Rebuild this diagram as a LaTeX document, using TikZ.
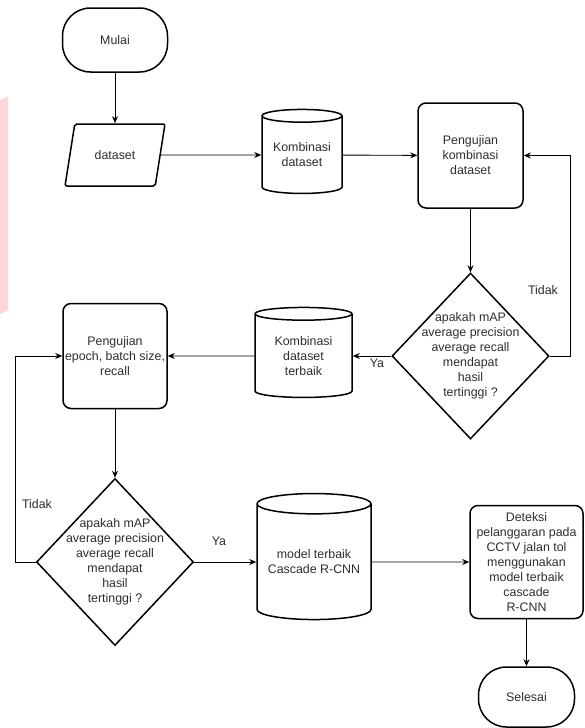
\documentclass[tikz,border=0pt]{standalone}
\usepackage{fontspec}
\setmainfont{Liberation Sans}
\usetikzlibrary{shapes.geometric,arrows.meta}
\definecolor{watermarkpink}{RGB}{255,214,218}
\definecolor{labelgray}{RGB}{45,45,45}

\begin{document}
\begin{tikzpicture}[x=1pt,y=-1pt,
        font=\fontsize{12.4}{15}\selectfont,
        every node/.style={text=labelgray},
        terminal/.style={draw, line width=1.5pt, rectangle, rounded corners=28pt, minimum width=105pt, minimum height=64pt},
        process/.style={draw, line width=1.5pt, rectangle, rounded corners=8pt, align=center, inner sep=0pt},
        datain/.style={draw, line width=1.5pt, trapezium, trapezium left angle=70, trapezium right angle=110, trapezium stretches=true, rounded corners=2pt, minimum width=100pt, minimum height=62pt},
        store/.style={draw, line width=1.5pt, cylinder, shape border rotate=90, aspect=0.22, align=center, inner sep=0pt},
        decision/.style={draw, line width=1.5pt, diamond, inner sep=0pt},
        qtext/.style={align=center},
        arr/.style={-{Stealth[length=7pt,width=6pt]}, line width=0.9pt}]
        \useasboundingbox (0,0) rectangle (584,728);

        % Watermark edge
        \fill[watermarkpink] (0,100) -- (8,96) -- (8,310) -- (0,314) -- cycle;

        % First round: dataset combinations
        \node[terminal] (mulai) at (115,40) {Mulai};
        \node[datain] (data) at (115,155) {dataset};
        \node[store, minimum width=80pt, minimum height=84pt] (komb) at (302,155) {Kombinasi\\dataset};
        \node[process, minimum width=105pt, minimum height=105pt] (ujikomb) at (470.5,155.5) {Pengujian\\kombinasi\\dataset};
        \node[decision, minimum width=157pt, minimum height=166pt] (cek1) at (470.5,356) {};
        \node[qtext] (cek1txt) at (cek1) {apakah mAP\\average precision\\average recall\\mendapat\\hasil\\tertinggi ?};
        \node[store, minimum width=97pt, minimum height=90pt] (kombbest) at (303.5,356) {Kombinasi\\dataset\\terbaik};

        % Second round: epoch and batch size
        \node[process, minimum width=104pt, minimum height=105pt] (ujiepoch) at (115,356) {Pengujian\\epoch, batch size,\\recall};
        \node[decision, minimum width=157pt, minimum height=167pt] (cek2) at (115,562) {};
        \node[qtext] (cek2txt) at (cek2) {apakah mAP\\average precision\\average recall\\mendapat\\hasil\\tertinggi ?};
        \node[store, minimum width=114pt, minimum height=126pt] (model) at (314,562) {model terbaik\\Cascade R-CNN};
        \node[process, minimum width=113pt, minimum height=113pt] (deteksi) at (526.5,562) {Deteksi\\pelanggaran pada\\CCTV jalan tol\\menggunakan\\model terbaik\\cascade\\R-CNN};
        \node[terminal, minimum width=96pt, minimum height=60pt] (selesai) at (526.5,697) {Selesai};

        % Branch labels
        \node (tidak1) at (543,290) {Tidak};
        \node (ya1) at (377,363) {Ya};
        \node (tidak2) at (37,504) {Tidak};
        \node (ya2) at (219,541) {Ya};

        % Flow
        \draw[arr] (mulai) -- (data);
        \draw[arr] (data) -- (komb);
        \draw[arr] (komb) -- (ujikomb);
        \draw[arr] (ujikomb) -- (cek1);
        \draw[arr] (cek1.east) -- ++(21,0) |- (ujikomb.east);
        \draw[arr] (cek1) -- (kombbest);
        \draw[arr] (kombbest) -- (ujiepoch);
        \draw[arr] (ujiepoch) -- (cek2);
        \draw[arr] (cek2.west) -- ++(-20,0) |- (ujiepoch.west);
        \draw[arr] (cek2) -- (model);
        \draw[arr] (model) -- (deteksi);
        \draw[arr] (deteksi) -- (selesai);
    \end{tikzpicture}
\end{document}
